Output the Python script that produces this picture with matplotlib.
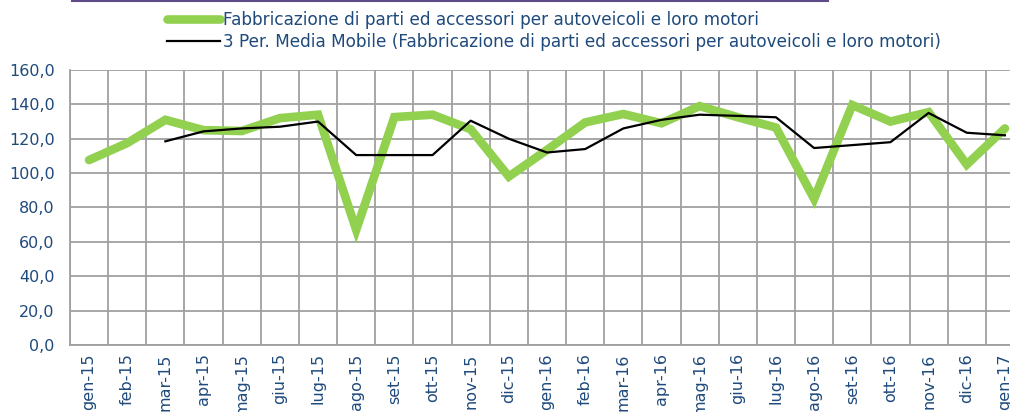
import numpy as np
import matplotlib
matplotlib.use('Agg')
import matplotlib.pyplot as plt
from matplotlib.lines import Line2D

# Data
months = ['gen-15', 'feb-15', 'mar-15', 'apr-15', 'mag-15', 'giu-15', 'lug-15',
          'ago-15', 'set-15', 'ott-15', 'nov-15', 'dic-15',
          'gen-16', 'feb-16', 'mar-16', 'apr-16', 'mag-16', 'giu-16', 'lug-16',
          'ago-16', 'set-16', 'ott-16', 'nov-16', 'dic-16', 'gen-17']
production = [107.6, 117.5, 131.0, 125.0, 124.5, 132.0, 134.0,
              67.0, 132.6, 134.0, 125.5, 98.0,
              113.5, 129.5, 134.4, 129.0, 139.0, 132.5, 126.5,
              85.0, 139.6, 130.0, 135.5, 105.0, 126.0]
moving_avg = [None, None, 118.5, 124.3, 126.0, 127.0, 130.0,
              110.5, 110.5, 110.5, 130.5, 120.0,
              112.0, 114.0, 126.0, 131.0, 134.0, 133.3, 132.5,
              114.6, 116.3, 118.0, 135.0, 123.5, 122.0]
yticks = [0, 20, 40, 60, 80, 100, 120, 140, 160]

labelColor = '#1F4A7C'
gridColor = '#A0A0A0'
greenColor = '#92D050'

fig = plt.figure(figsize=(10.1, 4.12), dpi=100)
# axes extends past the right edge, as in the cropped original
ax = fig.add_axes([70 / 1010, (412 - 345) / 412, (1024 - 70) / 1010, 275 / 412])

x = np.arange(len(months))
ma = np.array([np.nan if v is None else v for v in moving_avg], dtype=float)

ax.plot(x, production, color=greenColor, linewidth=6.2, solid_joinstyle='miter',
        solid_capstyle='round', zorder=3)
ax.plot(x, ma, color='black', linewidth=1.6, zorder=4)

ax.set_xlim(-0.5, len(months) - 0.5)
ax.set_ylim(0, 160)

# gridlines between categories (Excel style)
ax.set_xticks(x)
ax.set_xticks(np.arange(-0.5, len(months), 1.0), minor=True)
ax.set_xticklabels(months, rotation=90, fontsize=11.5, color=labelColor, va='top')
ax.set_yticks(yticks)
ax.set_yticklabels([f"{v:.1f}".replace('.', ',') for v in yticks],
                   fontsize=11.5, color=labelColor)
ax.tick_params(axis='x', which='both', length=0, pad=6)
ax.tick_params(axis='y', length=0, pad=11)
ax.grid(True, which='minor', axis='x', color=gridColor, linewidth=1.3)
ax.grid(True, which='major', axis='y', color=gridColor, linewidth=1.3)
ax.set_axisbelow(True)
for side in ['top', 'right']:
    ax.spines[side].set_visible(False)
for side in ['left', 'bottom']:
    ax.spines[side].set_color(gridColor)
    ax.spines[side].set_linewidth(1.3)

# legend at top
handles = [Line2D([0], [0], color=greenColor, linewidth=6.2, solid_capstyle='round'),
           Line2D([0], [0], color='black', linewidth=1.6)]
labels = ['Fabbricazione di parti ed accessori per autoveicoli e loro motori',
          '3 Per. Media Mobile (Fabbricazione di parti ed accessori per autoveicoli e loro motori)']
leg = fig.legend(handles, labels, loc='upper left', bbox_to_anchor=(167 / 1010, 1 - 11 / 412),
                 frameon=False, fontsize=12.2, handlelength=3.1, handletextpad=0.2,
                 labelspacing=0.25, borderaxespad=0, borderpad=0)
for t in leg.get_texts():
    t.set_color(labelColor)

# purple rule at the top
fig.add_artist(Line2D([72 / 1010, 828 / 1010], [1 - 1 / 412, 1 - 1 / 412],
                      color='#5F4B8B', linewidth=1.5))

fig.savefig('out.png', dpi=100)
